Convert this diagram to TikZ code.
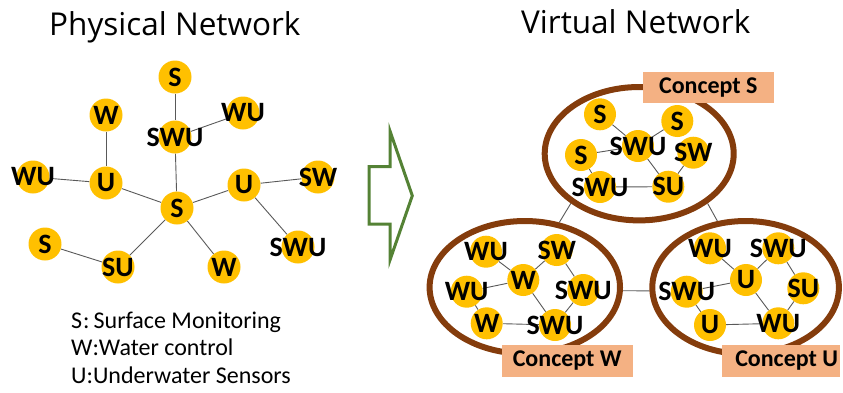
\documentclass[tikz,border=0pt]{standalone}
\usepackage{fontspec}
\setmainfont{Carlito}
\newfontfamily\titlefont{Open Sans}
\usetikzlibrary{shapes.geometric}
\definecolor{gold}{HTML}{FFC000}
\definecolor{brownline}{HTML}{843C0C}
\definecolor{peach}{HTML}{F4B183}
\definecolor{arrowgreen}{HTML}{548235}
\definecolor{edgegray}{HTML}{595959}
\pgfdeclarelayer{bg}
\pgfsetlayers{bg,main}
\newcommand\lbl[1]{\makebox[0pt]{#1}}
\tikzset{
  sensor/.style={circle, fill=gold, minimum size=33pt, inner sep=0pt,
    font=\fontsize{28}{28}\selectfont\bfseries},
  vsensor/.style={sensor, minimum size=32pt},
  link/.style={draw=edgegray, line width=0.9pt},
  cluster/.style={ellipse, draw=brownline, line width=6pt, inner sep=0pt},
  concept/.style={rectangle, fill=peach, inner sep=0pt,
    font=\fontsize{24}{24}\selectfont\bfseries},
  title/.style={anchor=base west, inner sep=0pt, font=\titlefont\fontsize{31.5}{31.5}\selectfont},
  legend/.style={anchor=base west, inner sep=0pt, font=\fontsize{24}{24}\selectfont},
  bigarrow/.style={draw=arrowgreen, line width=3pt, line join=miter}
}
\begin{document}
\begin{tikzpicture}[x=1pt,y=-1pt]
\useasboundingbox (0,0) rectangle (843,392);
% titles
\node[title] (t1) at (49,35) {Physical Network};
\node[title] (t2) at (521,33.5) {Virtual Network};
% physical network
\node[sensor] (pS1) at (175,77) {\lbl{S}};
\node[sensor] (pW1) at (106,115) {\lbl{W}};
\node[sensor] (pWU1) at (243,113) {\lbl{WU}};
\node[sensor] (pSWU1) at (175,137) {\lbl{SWU}};
\node[sensor] (pWU2) at (33,177) {\lbl{WU}};
\node[sensor] (pU1) at (106,183) {\lbl{U}};
\node[sensor] (pS0) at (177,208) {\lbl{S}};
\node[sensor] (pU2) at (244,185) {\lbl{U}};
\node[sensor] (pSW) at (318,177) {\lbl{SW}};
\node[sensor] (pSWU2) at (298,247) {\lbl{SWU}};
\node[sensor] (pS2) at (45,244) {\lbl{S}};
\node[sensor] (pSU) at (118,267) {\lbl{SU}};
\node[sensor] (pW2) at (224,267) {\lbl{W}};
\begin{pgfonlayer}{bg}
\draw[link] (pS1) -- (pSWU1);
\draw[link] (pSWU1) -- (pWU1);
\draw[link] (pSWU1) -- (pS0);
\draw[link] (pW1) -- (pU1);
\draw[link] (pWU2) -- (pU1);
\draw[link] (pU1) -- (pS0);
\draw[link] (pS0) -- (pU2);
\draw[link] (pU2) -- (pSW);
\draw[link] (pU2) -- (pSWU2);
\draw[link] (pS0) -- (pSU);
\draw[link] (pS0) -- (pW2);
\draw[link] (pS2) -- (pSU);
\end{pgfonlayer}
% legend
\node[legend] (l1) at (71,328) {S\kern1pt:\kern4pt Surface Monitoring};
\node[legend] (l2) at (71,355.5) {W:Water control};
\node[legend] (l3) at (71,383) {U:Underwater Sensors};
% arrow
\draw[bigarrow] (369,166.7) -- (390,166.7) -- (390,131) -- (412.3,195.7)
  -- (390,260) -- (390,224) -- (369,224) -- cycle;
% clusters
\node[cluster, minimum width=189pt, minimum height=133.4pt] (cS) at (639.2,153.7) {};
\node[cluster, minimum width=190.4pt, minimum height=132.6pt] (cW) at (524.8,287.3) {};
\node[cluster, minimum width=186.6pt, minimum height=133pt] (cU) at (745.6,287.5) {};
\begin{pgfonlayer}{bg}
\draw[link] (cS.216) -- (cW.62);
\draw[link] (cS.-36) -- (cU.113);
\draw[link] (cW.-2) -- (cU.182);
\end{pgfonlayer}
% cluster S
\node[vsensor] (sS1) at (600,114.3) {\lbl{S}};
\node[vsensor] (sS2) at (677.3,121) {\lbl{S}};
\node[vsensor] (sSWU1) at (638,146) {\lbl{SWU}};
\node[vsensor] (sS3) at (581,155) {\lbl{S}};
\node[vsensor] (sSW) at (693.3,152.7) {\lbl{SW}};
\node[vsensor] (sSWU2) at (600,187) {\lbl{SWU}};
\node[vsensor] (sSU) at (668.3,186.7) {\lbl{SU}};
\begin{pgfonlayer}{bg}
\draw[link] (sS1) -- (sSWU1);
\draw[link] (sS2) -- (sSWU1);
\draw[link] (sS3) -- (sSWU1);
\draw[link] (sSWU1) -- (sSU);
\draw[link] (sS3) -- (sSWU2);
\draw[link] (sSWU2) -- (sSU);
\draw[link] (sSW) -- (sSU);
\end{pgfonlayer}
% cluster W
\node[vsensor] (wWU1) at (486,251.7) {\lbl{WU}};
\node[vsensor] (wSW) at (556.7,250) {\lbl{SW}};
\node[vsensor] (wW1) at (523.3,280) {\lbl{W}};
\node[vsensor] (wWU2) at (466.7,291.7) {\lbl{WU}};
\node[vsensor] (wSWU1) at (583.3,290) {\lbl{SWU}};
\node[vsensor] (wW2) at (486.7,323.3) {\lbl{W}};
\node[vsensor] (wSWU2) at (555,325) {\lbl{SWU}};
\begin{pgfonlayer}{bg}
\draw[link] (wWU1) -- (wW1);
\draw[link] (wSW) -- (wW1);
\draw[link] (wWU2) -- (wW1);
\draw[link] (wW1) -- (wSWU2);
\draw[link] (wSW) -- (wSWU1);
\draw[link] (wSWU1) -- (wSWU2);
\draw[link] (wW2) -- (wSWU2);
\draw[link] (wWU2) -- (wW2);
\end{pgfonlayer}
% cluster U
\node[vsensor] (uWU1) at (710,248.3) {\lbl{WU}};
\node[vsensor] (uSWU1) at (778.3,248.3) {\lbl{SWU}};
\node[vsensor] (uU1) at (746,280) {\lbl{U}};
\node[vsensor] (uSWU2) at (686.7,291.7) {\lbl{SWU}};
\node[vsensor] (uSU) at (803.3,288.3) {\lbl{SU}};
\node[vsensor] (uU2) at (710,325) {\lbl{U}};
\node[vsensor] (uWU2) at (778.3,323.3) {\lbl{WU}};
\begin{pgfonlayer}{bg}
\draw[link] (uWU1) -- (uU1);
\draw[link] (uSWU1) -- (uU1);
\draw[link] (uSWU2) -- (uU1);
\draw[link] (uU1) -- (uWU2);
\draw[link] (uSWU1) -- (uSU);
\draw[link] (uSU) -- (uWU2);
\draw[link] (uU2) -- (uWU2);
\draw[link] (uSWU2) -- (uU2);
\end{pgfonlayer}
% concept labels
\node[concept, minimum width=131.3pt, minimum height=31pt] (kS) at (708.3,87.8) {Concept S};
\node[concept, minimum width=131pt, minimum height=31.7pt] (kW) at (567.2,360.8) {Concept W};
\node[concept, inner xsep=2pt, minimum height=31.7pt] (kU) at (781.2,360.8) {\makebox[113.7pt][r]{Concept U}};
\end{tikzpicture}
\end{document}
